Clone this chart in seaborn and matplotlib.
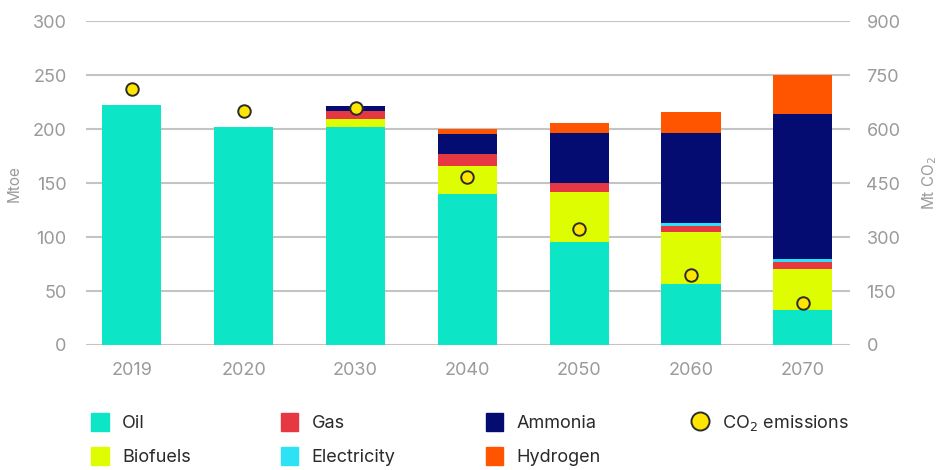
import matplotlib
matplotlib.use("Agg")
import matplotlib.pyplot as plt
from matplotlib.patches import Patch
from matplotlib.lines import Line2D
import numpy as np
import pandas as pd
import seaborn as sns

years = ["2019", "2020", "2030", "2040", "2050", "2060", "2070"]
oil = [222, 202, 202, 140, 95, 56.5, 32.5]
biofuels = [0, 0, 7.5, 26, 47, 48, 38]
gas = [0, 0, 7.5, 11, 8.5, 5.5, 6.5]
electricity = [0, 0, 0, 0, 0, 3, 2.5]
ammonia = [0, 0, 4.5, 18.5, 46, 83, 134.5]
hydrogen = [0, 0, 0, 4.5, 9.5, 19.5, 36]
co2 = [712, 650, 660, 468, 321, 194, 117]

layers = ["Oil", "Biofuels", "Gas", "Electricity", "Ammonia", "Hydrogen"]
colors = {"Oil": "#0de6c6", "Biofuels": "#ddfd00", "Gas": "#e63843",
          "Electricity": "#2ee2f6", "Ammonia": "#040c72", "Hydrogen": "#ff5500"}

df = pd.DataFrame({"year": years, "Oil": oil, "Biofuels": biofuels, "Gas": gas,
                   "Electricity": electricity, "Ammonia": ammonia,
                   "Hydrogen": hydrogen, "co2": co2})
cum = df[layers].cumsum(axis=1)

sns.set_theme(style="white")
plt.rcParams["font.family"] = ["Inter", "DejaVu Sans"]
grey = "#9a9a9a"

fig = plt.figure(figsize=(9.39, 4.70), dpi=100)
ax = fig.add_axes([0.0916, 0.266, 0.8134, 0.689])

# draw cumulative totals from the top layer down so each layer covers the one above
for name in reversed(layers):
    sns.barplot(x=df["year"], y=cum[name], color=colors[name], width=0.53,
                saturation=1, linewidth=0, ax=ax, zorder=3)

ax.set_ylim(0, 300)
ax.set_yticks(range(0, 301, 50))
ax.set_xlim(-0.41, 6.42)
ax.yaxis.grid(True, color="#c4c4c4", lw=1.5, zorder=0)
ax.set_axisbelow(True)
for s in ax.spines.values():
    s.set_visible(False)
ax.tick_params(axis="both", length=0, labelsize=13, labelcolor=grey)
ax.tick_params(axis="x", pad=12)
ax.tick_params(axis="y", pad=14)
ax.set_xlabel("")
ax.set_ylabel("Mtoe", color=grey, fontsize=11, labelpad=8)

ax2 = ax.twinx()
sns.pointplot(x=df["year"], y=df["co2"], linestyle="none", markers="o",
              color="#ffe600", markersize=9, markeredgecolor="#2b2b2b",
              markeredgewidth=1.4, ax=ax2, zorder=5)
ax2.set_ylim(0, 900)
ax2.set_yticks(range(0, 901, 150))
ax2.set_xlim(-0.41, 6.42)
for s in ax2.spines.values():
    s.set_visible(False)
ax2.tick_params(axis="y", length=0, labelsize=13, labelcolor=grey, pad=12)
ax2.set_ylabel("Mt CO$_2$", color=grey, fontsize=11, labelpad=14)
ax2.grid(False)

handles = [Patch(color=colors["Oil"]), Patch(color=colors["Biofuels"]),
           Patch(color=colors["Gas"]), Patch(color=colors["Electricity"]),
           Patch(color=colors["Ammonia"]), Patch(color=colors["Hydrogen"]),
           Line2D([], [], marker="o", linestyle="none", markersize=13,
                  markerfacecolor="#ffe600", markeredgecolor="#2b2b2b",
                  markeredgewidth=1.4)]
labels = ["Oil", "Biofuels", "Gas", "Electricity", "Ammonia", "Hydrogen",
          "CO$_2$ emissions"]
leg = fig.legend(handles, labels, ncol=4, loc="lower left",
                 bbox_to_anchor=(0.08, -0.026), frameon=False, fontsize=13,
                 handlelength=0.95, handleheight=1.2, handletextpad=0.75,
                 columnspacing=5.0, labelspacing=0.8)
for t in leg.get_texts():
    t.set_color("#2a2a2a")

fig.savefig("out.png", dpi=100)
